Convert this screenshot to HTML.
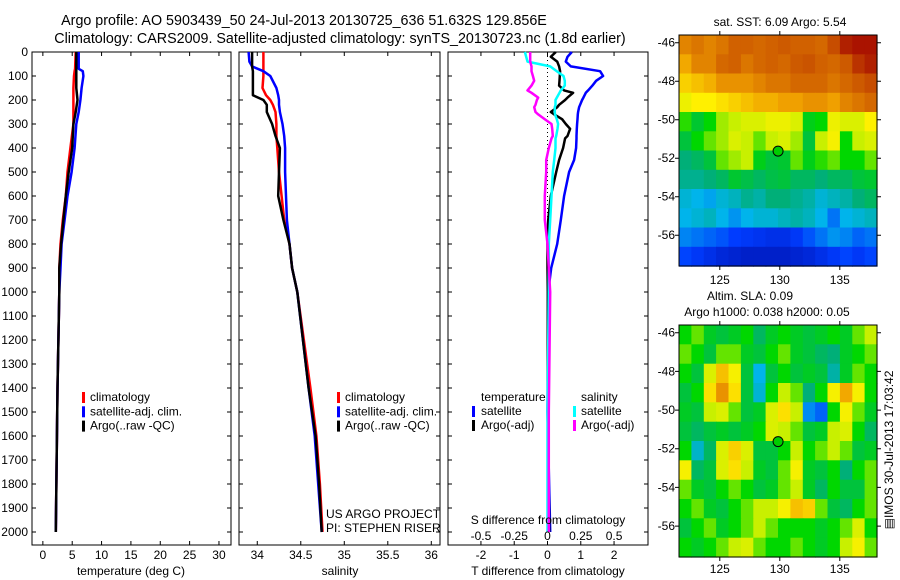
<!DOCTYPE html>
<html><head><meta charset="utf-8"><style>
body{margin:0;background:#fff}
svg{display:block;font-family:"Liberation Sans",sans-serif}
</style></head><body>
<svg id="c" width="900" height="580" xmlns="http://www.w3.org/2000/svg">
<text x="304" y="25" font-size="14.3" text-anchor="middle">Argo profile: AO 5903439_50 24-Jul-2013 20130725_636 51.632S 129.856E</text>
<text x="340" y="43" font-size="14.3" text-anchor="middle">Climatology: CARS2009. Satellite-adjusted climatology: synTS_20130723.nc (1.8d earlier)</text>
<g id="g"></g>
</svg>
<script>
// ---- data ----
const tDepth=[0,70,80,100,150,200,250,300,400,500,600,700,800,900,1000,1400,2000];
const tClim=[5.6,5.5,5.4,5.3,5.2,5.2,5.2,5.2,4.7,4.2,3.9,3.4,3.0,2.8,2.8,2.5,2.2];
const tSat=[6.1,6.1,6.8,6.9,6.6,6.4,6.1,5.7,5.4,4.9,4.2,3.7,3.2,3.0,2.8,2.5,2.2];
const tArgo=[5.7,5.7,5.7,5.7,5.7,5.9,5.6,5.2,5.0,4.4,3.9,3.5,3.1,2.8,2.8,2.5,2.2];
const sDepth=[0,40,60,80,100,150,180,200,220,250,300,350,400,500,600,700,800,900,1000,1400,1600,1800,2000];
const sClim=[34.07,34.07,34.07,34.07,34.07,34.06,34.10,34.15,34.18,34.21,34.22,34.22,34.23,34.25,34.28,34.31,34.37,34.40,34.46,34.61,34.68,34.72,34.75];
const sSat=[33.90,33.91,33.94,34.07,34.15,34.22,34.24,34.25,34.25,34.26,34.29,34.31,34.32,34.32,34.33,34.34,34.37,34.40,34.46,34.59,34.66,34.70,34.74];
const sArgo=[33.94,33.94,33.94,33.95,33.95,33.95,33.95,34.07,34.11,34.11,34.17,34.21,34.26,34.25,34.24,34.30,34.37,34.40,34.46,34.59,34.67,34.71,34.74];
const dDepth=[0,20,40,60,80,100,120,140,160,170,190,200,220,230,250,260,280,300,320,350,360,400,450,500,600,700,800,900,1000,1500,2000];
const dTsat=[0.73,0.6,0.55,0.7,1.58,1.67,1.46,1.35,1.22,1.15,1.08,1.04,0.98,0.95,0.92,0.91,0.9,0.89,0.88,0.87,0.87,0.86,0.8,0.65,0.5,0.4,0.29,0.11,0.02,0.0,0.08];
const dTargo=[0.25,0.1,0.29,0.35,0.38,0.37,0.36,0.35,0.5,0.77,0.6,0.53,0.35,0.29,0.1,0.2,0.44,0.55,0.68,0.6,0.53,0.47,0.35,0.26,0.1,0.02,0.0,0.0,0.01,0.01,0.05];
const dSsat=[-0.17,-0.16,-0.15,0.02,0.07,0.12,0.13,0.13,0.10,0.09,0.07,0.06,0.06,0.055,0.055,0.056,0.07,0.08,0.075,0.065,0.06,0.06,0.05,0.04,0.03,0.02,0.01,0.01,0.01,0.0,0.0];
const dSargo=[-0.13,-0.13,-0.13,-0.12,-0.12,-0.11,-0.10,-0.12,-0.15,-0.12,-0.07,-0.08,-0.09,-0.1,-0.09,-0.07,-0.02,0.03,0.035,0.04,0.03,0.01,-0.01,-0.01,-0.02,-0.02,0.0,0.01,0.02,0.01,0.01];
const depthTicks=[0,100,200,300,400,500,600,700,800,900,1000,1100,1200,1300,1400,1500,1600,1700,1800,1900,2000];
const tTicks=[0,5,10,15,20,25,30];
const sTicks=[34,34.5,35,35.5,36];
const dTTicks=[-2,-1,0,1,2];
const dSTicks=[-0.5,-0.25,0,0.25,0.5];
const sstGrid=[
[.8,.82,.8,.82,.85,.85,.84,.85,.86,.85,.85,.84,.88,.95,.97,.97],
[.75,.8,.8,.84,.85,.82,.84,.85,.84,.86,.87,.85,.84,.86,.92,.95],
[.7,.72,.74,.78,.78,.78,.8,.82,.82,.84,.84,.84,.82,.84,.86,.88],
[.64,.66,.66,.68,.7,.72,.74,.74,.76,.76,.78,.78,.76,.8,.82,.84],
[.52,.46,.5,.58,.6,.62,.62,.64,.64,.62,.48,.5,.64,.62,.62,.66],
[.45,.5,.55,.58,.62,.6,.55,.6,.62,.58,.45,.6,.65,.5,.6,.62],
[.4,.42,.45,.55,.58,.6,.48,.45,.46,.55,.48,.52,.55,.5,.5,.55],
[.38,.38,.4,.42,.46,.44,.42,.44,.45,.42,.42,.4,.42,.42,.45,.46],
[.32,.3,.28,.32,.34,.38,.36,.4,.4,.38,.36,.32,.34,.36,.4,.42],
[.3,.32,.34,.3,.26,.3,.32,.32,.34,.36,.34,.3,.22,.3,.32,.34],
[.24,.22,.2,.18,.15,.14,.13,.12,.12,.14,.18,.22,.26,.24,.2,.22],
[.16,.14,.12,.1,.09,.08,.08,.08,.08,.09,.1,.12,.14,.16,.14,.16]];
const slaGrid=[
[.5,.55,.47,.45,.47,.5,.42,.47,.5,.47,.45,.47,.5,.47,.55,.6],
[.55,.5,.45,.55,.55,.47,.45,.5,.55,.47,.45,.42,.4,.47,.5,.55],
[.5,.45,.62,.72,.65,.45,.3,.45,.5,.45,.47,.45,.36,.47,.55,.5],
[.45,.5,.68,.78,.68,.45,.32,.5,.6,.55,.4,.5,.65,.75,.65,.5],
[.47,.45,.6,.62,.55,.45,.47,.62,.68,.6,.25,.2,.5,.65,.55,.47],
[.45,.42,.45,.47,.45,.47,.5,.62,.6,.55,.45,.47,.6,.62,.5,.42],
[.5,.33,.42,.62,.7,.62,.45,.45,.5,.6,.5,.55,.6,.55,.45,.47],
[.65,.42,.45,.62,.68,.6,.47,.45,.55,.65,.47,.45,.5,.4,.5,.55],
[.55,.47,.45,.5,.55,.5,.45,.47,.55,.6,.47,.42,.5,.45,.45,.55],
[.5,.55,.47,.45,.5,.55,.6,.6,.65,.72,.7,.55,.45,.42,.5,.55],
[.45,.5,.55,.47,.5,.55,.6,.55,.5,.5,.5,.47,.5,.55,.62,.5],
[.5,.47,.5,.55,.6,.62,.55,.5,.5,.55,.5,.47,.5,.6,.65,.55]];
const lonTicks=[125,130,135];
const latTicks=[-46,-48,-50,-52,-54,-56];
const floatPos=[129.856,-51.632];

// ---- drawing ----
const NS='http://www.w3.org/2000/svg';
const G=document.getElementById('g');
function el(tag,attrs,txt){const e=document.createElementNS(NS,tag);for(const k in attrs)e.setAttribute(k,attrs[k]);if(txt!==undefined)e.textContent=txt;G.appendChild(e);return e;}
const pTop=52,pBot=545,dMax=(pBot-pTop)/0.24;
const yD=d=>pTop+d*(pBot-pTop)/dMax;
function panel(x0,x1,vmin,vmax,name){
  const sx=v=>x0+(v-vmin)/(vmax-vmin)*(x1-x0);
  const r=el('rect',{x:x0,y:pTop,width:x1-x0,height:pBot-pTop,fill:'none',stroke:'#000','stroke-width':1});
  
  
  depthTicks.forEach(d=>{const y=yD(d);
    const t1=el('path',{d:`M${x0} ${y}h4M${x1} ${y}h-4`,stroke:'#000'});
    
    });
  return sx;
}
function line(xs,ds,sx,color,name,w){
  const pts=xs.map((v,i)=>sx(v).toFixed(1)+','+yD(ds[i]).toFixed(1)).join(' ');
  const p=el('polyline',{points:pts,fill:'none',stroke:color,'stroke-width':w||2.5,'stroke-linejoin':'round'});
  
  
}
function txt(x,y,s,name,anchor,size){const t=el('text',{x:x,y:y,'font-size':size||12,'text-anchor':anchor||'start'},s);
  
  return t;}
function xticks(sx,ticks,y,fmt,name){
  ticks.forEach(v=>{const x=sx(v);
    const t=el('path',{d:`M${x} ${pBot}v-4M${x} ${pTop}v4`,stroke:'#000'});
    
    
    txt(x,y,fmt(v),name+'-tick-label','middle');});
}
function legMark(x,y,c){const m=el('rect',{x:x,y:y-9,width:3,height:11,fill:c});
  
  }

// panel 1 temperature
const sxT=panel(32,231,-1.85,32.05,'temperature-panel');
depthTicks.forEach(d=>{txt(28,yD(d)+4,String(d),'depth-tick-label','end');});
xticks(sxT,tTicks,559,v=>String(v),'temperature-x');
line(tClim,tDepth,sxT,'#f00','temperature-climatology-line');
line(tSat,tDepth,sxT,'#00f','temperature-satellite-line');
line(tArgo,tDepth,sxT,'#000','temperature-argo-line');
txt(131,575,'temperature (deg C)','temperature-axis-title','middle');
[['climatology','#f00'],['satellite-adj. clim.','#00f'],['Argo(..raw -QC)','#000']].forEach((e,i)=>{legMark(82,401+i*14.3,e[1]);txt(90,401+i*14.3,e[0],'temperature-legend-entry');});

// panel 2 salinity
const sxS=panel(239,440,33.79,36.1,'salinity-panel');
xticks(sxS,sTicks,559,v=>String(v),'salinity-x');
line(sClim,sDepth,sxS,'#f00','salinity-climatology-line');
line(sSat,sDepth,sxS,'#00f','salinity-satellite-line');
line(sArgo,sDepth,sxS,'#000','salinity-argo-line');
txt(340,575,'salinity','salinity-axis-title','middle');
[['climatology','#f00'],['satellite-adj. clim.','#00f'],['Argo(..raw -QC)','#000']].forEach((e,i)=>{legMark(337,401+i*14.3,e[1]);txt(345,401+i*14.3,e[0],'salinity-legend-entry');});
txt(326,518,'US ARGO PROJECT','project-label');
txt(326,532,'PI: STEPHEN RISER','pi-label');

// panel 3 differences
const sxD=panel(448,648,-2.99,3.02,'difference-panel');
const sxDS=v=>sxD(v*4);
const z=el('line',{x1:sxD(0),x2:sxD(0),y1:yD(0),y2:yD(700),stroke:'#000','stroke-dasharray':'1,3'});


line(dTsat,dDepth,sxD,'#00f','t-diff-satellite-line');
line(dTargo,dDepth,sxD,'#000','t-diff-argo-line');
line(dSsat,dDepth,sxDS,'#0ff','s-diff-satellite-line');
line(dSargo,dDepth,sxDS,'#f0f','s-diff-argo-line');
xticks(sxD,dTTicks,559,v=>String(v),'t-diff-x');
dSTicks.forEach(v=>{txt(sxDS(v),540,String(v),'s-diff-tick-label','middle');});
txt(548,524,'S difference from climatology','s-diff-axis-title','middle');
txt(548,575,'T difference from climatology','t-diff-axis-title','middle');
txt(481,401,'temperature','legend-temperature-heading');
txt(581,401,'salinity','legend-salinity-heading');
legMark(472,415,'#00f');txt(481,415,'satellite','legend-t-satellite');
legMark(472,429,'#000');txt(481,429,'Argo(-adj)','legend-t-argo');
legMark(573,415,'#0ff');txt(581,415,'satellite','legend-s-satellite');
legMark(573,429,'#f0f');txt(581,429,'Argo(-adj)','legend-s-argo');

// maps
const cmapStops=[[0,[0,0,140]],[0.15,[0,60,255]],[0.3,[0,180,235]],[0.4,[0,175,120]],[0.5,[0,215,0]],[0.6,[200,240,0]],[0.66,[255,240,0]],[0.76,[240,160,0]],[0.86,[205,90,0]],[1,[160,0,0]]];
function cmap(v){v=Math.max(0,Math.min(1,v));
  for(let i=1;i<cmapStops.length;i++){const a=cmapStops[i-1],b=cmapStops[i];
    if(v<=b[0]){const t=(v-a[0])/(b[0]-a[0]);const c=a[1].map((x,k)=>Math.round(x+(b[1][k]-x)*t));return `rgb(${c})`;}}
  return 'rgb(160,0,0)';}
function map(y0,y1,grid,name,labY){
  const x0=679,x1=877,lon0=121.6,lon1=138.1,lat0=-45.6,lat1=-57.6;
  const sx=l=>x0+(l-lon0)/(lon1-lon0)*(x1-x0);
  const sy=l=>y0+(l-lat0)/(lat1-lat0)*(y1-y0);
  const rows=grid.length,cols=grid[0].length,cw=(x1-x0)/cols,ch=(y1-y0)/rows;
  grid.forEach((row,r)=>row.forEach((v,c)=>{
    const cell=el('rect',{x:(x0+c*cw).toFixed(1),y:(y0+r*ch).toFixed(1),width:(cw+0.6).toFixed(1),height:(ch+0.6).toFixed(1),fill:cmap(v)});
    
    }));
  const fr=el('rect',{x:x0,y:y0,width:x1-x0,height:y1-y0,fill:'none',stroke:'#000'});
  
  
  lonTicks.forEach(l=>{const x=sx(l);
    const t=el('path',{d:`M${x} ${y0}v-4M${x} ${y1}v4`,stroke:'#000'});
    
    
    txt(x,labY,String(l),name+'-lon-label','middle');});
  latTicks.forEach(l=>{const y=sy(l);
    const t=el('path',{d:`M${x0} ${y}h-4M${x1} ${y}h4`,stroke:'#000'});
    
    
    txt(675,y+4,String(l),name+'-lat-label','end');});
  const d=el('circle',{cx:sx(floatPos[0]),cy:sy(floatPos[1]),r:5,fill:'#0c0',stroke:'#000'});
  
  
}
txt(780,26,'sat. SST: 6.09 Argo: 5.54','sst-map-title','middle');
map(35,266,sstGrid,'sst-map',284);
txt(750,300,'Altim. SLA: 0.09','sla-map-title','middle');
txt(767,316,'Argo h1000: 0.038 h2000: 0.05','sla-map-subtitle','middle');
map(325,557,slaGrid,'sla-map',573);
const st=txt(0,0,'\u25A4IMOS 30-Jul-2013 17:03:42','imos-timestamp','middle');
st.setAttribute('transform','translate(893,450) rotate(-90)');
</script>
</body></html>
